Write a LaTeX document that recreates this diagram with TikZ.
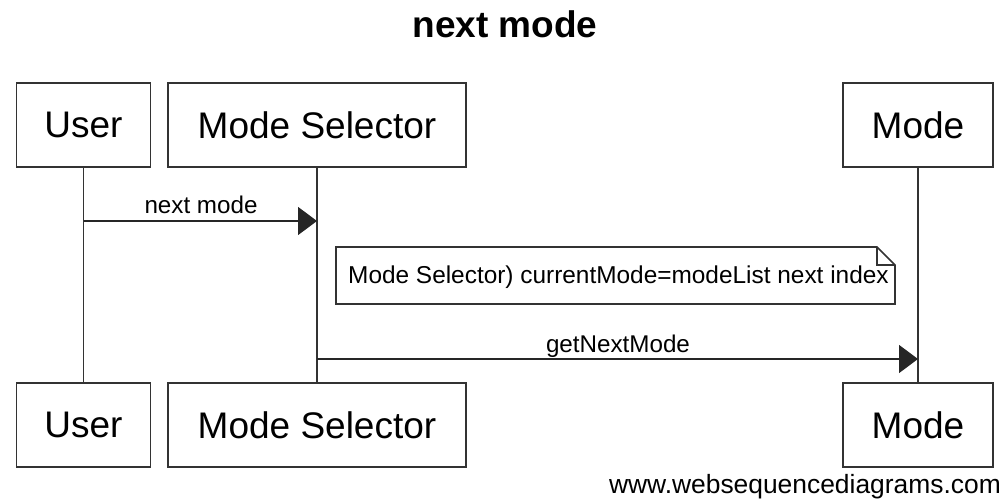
\documentclass[tikz,border=0pt]{standalone}
\usepackage{fontspec}
\setmainfont{Liberation Sans}
\usetikzlibrary{arrows.meta}
\begin{document}
\begin{tikzpicture}[x=1pt,y=-1pt,
  line/.style={draw=black!80,line width=1.6pt},
  actor/.style={line,fill=white,minimum height=84pt,inner sep=0pt,font=\fontsize{37}{40}\selectfont},
  msg/.style={draw=black!85,line width=1.4pt,-{Triangle[length=19pt,width=28pt]}},
  msglabel/.style={font=\fontsize{24.2}{26}\selectfont,inner sep=0pt,anchor=base}]
\useasboundingbox (0,0) rectangle (1007,503);
% title
\node[font=\bfseries\fontsize{37}{40}\selectfont,inner sep=0pt] (title) at (505,24) {next mode};
% top actors
\node[actor,minimum width=134pt] (ut) at (83.5,125) {User};
\node[actor,minimum width=298pt] (st) at (317,125) {Mode Selector};
\node[actor,minimum width=150pt] (mt) at (918,125) {Mode};
% bottom actors
\node[actor,minimum width=134pt] (ub) at (83.5,425) {User};
\node[actor,minimum width=298pt] (sb) at (317,425) {Mode Selector};
\node[actor,minimum width=150pt] (mb) at (918,425) {Mode};
% lifelines
\draw[line] (ut.south) -- (ub.north);
\draw[line] (st.south) -- (sb.north);
\draw[line] (mt.south) -- (mb.north);
% message coordinates
\coordinate (u1) at (ut.south |- 0,221);
\coordinate (s1) at (st.south |- 0,221);
\coordinate (s2) at (st.south |- 0,359);
\coordinate (m2) at (mt.south |- 0,359);
\draw[msg] (u1) -- (s1);
\node[msglabel] (l1) at (201,213) {next mode};
\draw[msg] (s2) -- (m2);
\node[msglabel] (l2) at (618,352) {getNextMode};
% note
\draw[line,fill=white] (336,247) -- (877,247) -- (895,265) -- (895,304) -- (336,304) -- cycle;
\draw[line] (877,247) -- (877,265) -- (895,265);
\node[font=\fontsize{24.4}{26}\selectfont,inner sep=0pt,anchor=base west] (note) at (348,283) {Mode Selector) currentMode=modeList next index};
% watermark
\node[font=\fontsize{26.4}{28}\selectfont,inner sep=0pt,anchor=base east] (wm) at (1001,493) {www.websequencediagrams.com};
\end{tikzpicture}
\end{document}
